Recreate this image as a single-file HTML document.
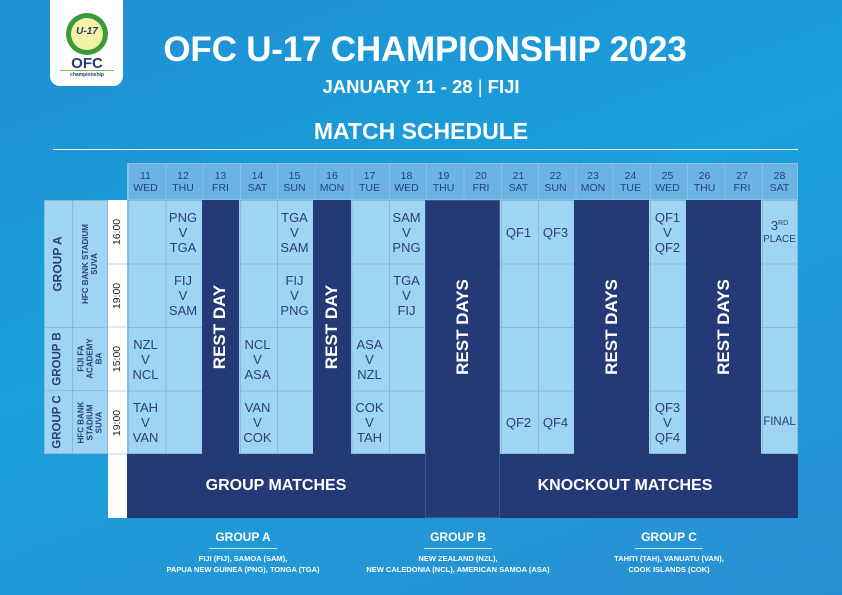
<!DOCTYPE html>
<html><head><meta charset="utf-8"><style>
*{margin:0;padding:0;box-sizing:border-box}
body{width:842px;height:595px;overflow:hidden;position:relative;font-family:"Liberation Sans",sans-serif;
background:linear-gradient(160deg,#1f8fd3 0%,#1aa0da 45%,#2a8fd2 100%);}
.a{position:absolute}
.c{position:absolute;display:flex;align-items:center;justify-content:center;text-align:center;color:#2a3f78;}
.m{font-size:13px;line-height:15px}
.h{font-size:10.5px;line-height:12px;color:#2a3f78}
.rot{transform:rotate(-90deg);white-space:nowrap}
.dk{position:absolute;background:#233a77}
.rd{color:#fff;font-weight:bold;font-size:17px}
.lg{color:#fff;font-weight:bold;text-align:center;position:absolute}
</style></head><body>
<div class="a" style="left:50px;top:0;width:73px;height:86px;background:#fff;border-radius:0 0 10px 10px"></div>
<div class="a" style="left:66px;top:13px;width:42px;height:42px;border-radius:50%;background:#3c9a3a"></div>
<div class="a" style="left:71px;top:18px;width:32px;height:32px;border-radius:50%;background:#f2f3a8"></div>
<div class="c" style="left:66px;top:24px;width:42px;height:14px;font-size:10px;font-weight:bold;font-style:italic;color:#233a77">U-17</div>
<div class="c" style="left:55px;top:55px;width:64px;height:16px;font-size:15px;font-weight:bold;color:#233a77">OFC</div>
<div class="a" style="left:60px;top:70px;width:54px;height:1px;background:#7cc04a"></div>
<div class="c" style="left:55px;top:71px;width:64px;height:8px;font-size:5px;font-weight:bold;color:#233a77">championship</div>
<div class="lg" style="left:115px;top:30px;width:620px;font-size:35px;line-height:40px;letter-spacing:-0.2px">OFC U-17 CHAMPIONSHIP 2023</div>
<div class="lg" style="left:290px;top:77px;width:262px;font-size:18.5px;line-height:20px">JANUARY 11 - 28 <span style="font-weight:normal">|</span> FIJI</div>
<div class="lg" style="left:270px;top:118px;width:302px;font-size:23px;line-height:26px">MATCH SCHEDULE</div>
<div class="a" style="left:53px;top:149px;width:745px;height:1px;background:#fff"></div>
<div class="a" style="left:127px;top:163px;width:671px;height:37px;background:#6bb3e3;background-image:repeating-linear-gradient(90deg,#8cbfe2 0 1px,transparent 1px 37.28px);border:1px solid #8cbfe2"></div>
<div class="a" style="left:44px;top:200px;width:64px;height:254px;background:#9dd5f2;border:1px solid #8fb8d6"></div>
<div class="a" style="left:72px;top:200px;width:1px;height:254px;background:#8fb8d6"></div>
<div class="a" style="left:44px;top:327px;width:64px;height:1px;background:#8fb8d6"></div>
<div class="a" style="left:44px;top:390px;width:64px;height:1px;background:#8fb8d6"></div>
<div class="a" style="left:108px;top:200px;width:19px;height:318px;background:#fff"></div>
<div class="a" style="left:108px;top:263px;width:19px;height:2px;background:#e4e8ec"></div>
<div class="a" style="left:108px;top:326px;width:19px;height:2px;background:#e4e8ec"></div>
<div class="a" style="left:108px;top:390px;width:19px;height:2px;background:#e4e8ec"></div>
<div class="a" style="left:108px;top:453px;width:19px;height:2px;background:#e4e8ec"></div>
<div class="a" style="left:127px;top:200px;width:671px;height:254px;background:#9dd5f2;background-image:repeating-linear-gradient(90deg,#8fb8d6 0 1px,transparent 1px 37.28px),repeating-linear-gradient(180deg,transparent 0 62.5px,#8fb8d6 62.5px 63.5px);border:1px solid #8fb8d6"></div>
<div class="dk" style="left:202px;top:200px;width:37px;height:254px"></div>
<div class="dk" style="left:313px;top:200px;width:38px;height:254px"></div>
<div class="dk" style="left:425px;top:200px;width:75px;height:318px;border:1px solid #3d5590"></div>
<div class="dk" style="left:574px;top:200px;width:75px;height:254px"></div>
<div class="dk" style="left:686px;top:200px;width:75px;height:254px"></div>
<div class="dk" style="left:127px;top:454px;width:298px;height:64px"></div>
<div class="dk" style="left:500px;top:454px;width:298px;height:64px"></div>
<div class="c h" style="left:127px;top:163px;width:37px;height:37px">11<br>WED</div>
<div class="c h" style="left:164px;top:163px;width:38px;height:37px">12<br>THU</div>
<div class="c h" style="left:202px;top:163px;width:37px;height:37px">13<br>FRI</div>
<div class="c h" style="left:239px;top:163px;width:37px;height:37px">14<br>SAT</div>
<div class="c h" style="left:276px;top:163px;width:37px;height:37px">15<br>SUN</div>
<div class="c h" style="left:313px;top:163px;width:38px;height:37px">16<br>MON</div>
<div class="c h" style="left:351px;top:163px;width:37px;height:37px">17<br>TUE</div>
<div class="c h" style="left:388px;top:163px;width:37px;height:37px">18<br>WED</div>
<div class="c h" style="left:425px;top:163px;width:37px;height:37px">19<br>THU</div>
<div class="c h" style="left:462px;top:163px;width:38px;height:37px">20<br>FRI</div>
<div class="c h" style="left:500px;top:163px;width:37px;height:37px">21<br>SAT</div>
<div class="c h" style="left:537px;top:163px;width:37px;height:37px">22<br>SUN</div>
<div class="c h" style="left:574px;top:163px;width:38px;height:37px">23<br>MON</div>
<div class="c h" style="left:612px;top:163px;width:37px;height:37px">24<br>TUE</div>
<div class="c h" style="left:649px;top:163px;width:37px;height:37px">25<br>WED</div>
<div class="c h" style="left:686px;top:163px;width:37px;height:37px">26<br>THU</div>
<div class="c h" style="left:723px;top:163px;width:38px;height:37px">27<br>FRI</div>
<div class="c h" style="left:761px;top:163px;width:37px;height:37px">28<br>SAT</div>
<div class="c" style="left:44px;top:200px;width:28px;height:127px"><div class="rot" style="font-size:12px;font-weight:bold">GROUP A</div></div>
<div class="c" style="left:44px;top:327px;width:28px;height:63px"><div class="rot" style="font-size:11.5px;font-weight:bold">GROUP B</div></div>
<div class="c" style="left:44px;top:390px;width:28px;height:64px"><div class="rot" style="font-size:11.5px;font-weight:bold">GROUP C</div></div>
<div class="c" style="left:72px;top:200px;width:36px;height:127px"><div class="rot" style="font-size:8px;font-weight:bold;line-height:9px">HFC BANK STADIUM<br>SUVA</div></div>
<div class="c" style="left:72px;top:327px;width:36px;height:63px"><div class="rot" style="font-size:8px;font-weight:bold;line-height:9px">FIJI FA<br>ACADEMY<br>BA</div></div>
<div class="c" style="left:72px;top:390px;width:36px;height:64px"><div class="rot" style="font-size:8px;font-weight:bold;line-height:9px">HFC BANK<br>STADIUM<br>SUVA</div></div>
<div class="c" style="left:108px;top:200px;width:19px;height:63px"><div class="rot" style="font-size:10.5px;color:#222">16:00</div></div>
<div class="c" style="left:108px;top:264px;width:19px;height:63px"><div class="rot" style="font-size:10.5px;color:#222">19:00</div></div>
<div class="c" style="left:108px;top:327px;width:19px;height:63px"><div class="rot" style="font-size:10.5px;color:#222">15:00</div></div>
<div class="c" style="left:108px;top:391px;width:19px;height:63px"><div class="rot" style="font-size:10.5px;color:#222">19:00</div></div>
<div class="c m" style="left:164px;top:200px;width:38px;height:64px">PNG<br>V<br>TGA</div>
<div class="c m" style="left:164px;top:264px;width:38px;height:63px">FIJ<br>V<br>SAM</div>
<div class="c m" style="left:276px;top:200px;width:37px;height:64px">TGA<br>V<br>SAM</div>
<div class="c m" style="left:276px;top:264px;width:37px;height:63px">FIJ<br>V<br>PNG</div>
<div class="c m" style="left:388px;top:200px;width:37px;height:64px">SAM<br>V<br>PNG</div>
<div class="c m" style="left:388px;top:264px;width:37px;height:63px">TGA<br>V<br>FIJ</div>
<div class="c m" style="left:127px;top:327px;width:37px;height:64px">NZL<br>V<br>NCL</div>
<div class="c m" style="left:239px;top:327px;width:37px;height:64px">NCL<br>V<br>ASA</div>
<div class="c m" style="left:351px;top:327px;width:37px;height:64px">ASA<br>V<br>NZL</div>
<div class="c m" style="left:127px;top:391px;width:37px;height:63px">TAH<br>V<br>VAN</div>
<div class="c m" style="left:239px;top:391px;width:37px;height:63px">VAN<br>V<br>COK</div>
<div class="c m" style="left:351px;top:391px;width:37px;height:63px">COK<br>V<br>TAH</div>
<div class="c m" style="left:500px;top:200px;width:37px;height:64px">QF1</div>
<div class="c m" style="left:537px;top:200px;width:37px;height:64px">QF3</div>
<div class="c m" style="left:500px;top:391px;width:37px;height:63px">QF2</div>
<div class="c m" style="left:537px;top:391px;width:37px;height:63px">QF4</div>
<div class="c m" style="left:649px;top:200px;width:37px;height:64px">QF1<br>V<br>QF2</div>
<div class="c m" style="left:649px;top:391px;width:37px;height:63px">QF3<br>V<br>QF4</div>
<div class="c" style="left:761px;top:200px;width:37px;height:64px;flex-direction:column;font-size:10px;line-height:14px">
<div style="white-space:nowrap;font-size:13px">3<span style="font-size:7px;vertical-align:5px">RD</span></div><div>PLACE</div></div>
<div class="c m" style="left:761px;top:391px;width:37px;height:63px;font-size:11.5px">FINAL</div>
<div class="c rd" style="left:202px;top:200px;width:37px;height:254px"><div class="rot">REST DAY</div></div>
<div class="c rd" style="left:313px;top:200px;width:38px;height:254px"><div class="rot">REST DAY</div></div>
<div class="c rd" style="left:425px;top:200px;width:75px;height:254px"><div class="rot">REST DAYS</div></div>
<div class="c rd" style="left:574px;top:200px;width:75px;height:254px"><div class="rot">REST DAYS</div></div>
<div class="c rd" style="left:686px;top:200px;width:75px;height:254px"><div class="rot">REST DAYS</div></div>
<div class="c" style="left:127px;top:454px;width:298px;height:64px;color:#fff;font-weight:bold;font-size:16px">GROUP MATCHES</div>
<div class="c" style="left:500px;top:454px;width:250px;height:64px;color:#fff;font-weight:bold;font-size:16px">KNOCKOUT MATCHES</div>
<div class="lg" style="left:143px;top:530px;width:200px;font-size:12px">GROUP A</div>
<div class="a" style="left:209px;top:548px;width:68px;height:1px;background:#cfe6f5"></div>
<div class="lg" style="left:123px;top:553px;width:240px;font-size:7.5px;line-height:11px">FIJI (FIJ), SAMOA (SAM),<br>PAPUA NEW GUINEA (PNG), TONGA (TGA)</div>
<div class="lg" style="left:358px;top:530px;width:200px;font-size:12px">GROUP B</div>
<div class="a" style="left:424px;top:548px;width:68px;height:1px;background:#cfe6f5"></div>
<div class="lg" style="left:328px;top:553px;width:260px;font-size:7.5px;line-height:11px">NEW ZEALAND (NZL),<br>NEW CALEDONIA (NCL), AMERICAN SAMOA (ASA)</div>
<div class="lg" style="left:569px;top:530px;width:200px;font-size:12px">GROUP C</div>
<div class="a" style="left:635px;top:548px;width:68px;height:1px;background:#cfe6f5"></div>
<div class="lg" style="left:569px;top:553px;width:200px;font-size:7.5px;line-height:11px">TAHITI (TAH), VANUATU (VAN),<br>COOK ISLANDS (COK)</div>
</body></html>
